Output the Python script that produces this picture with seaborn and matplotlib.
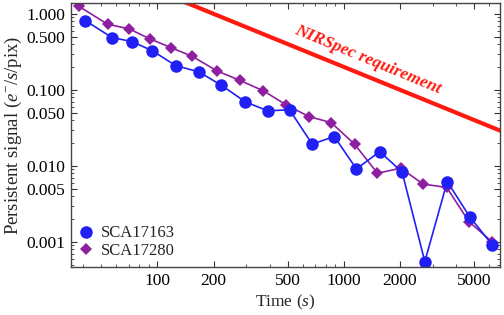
import numpy as np
import pandas as pd
import seaborn as sns
import matplotlib.pyplot as plt
from matplotlib.lines import Line2D
from matplotlib.ticker import LogLocator, NullFormatter

# data (time in s, signal in e-/s/pix)
time_a = [41, 57, 73, 94, 125, 167, 220, 296, 390, 511, 676, 888,
          1167, 1556, 2051, 2716, 3582, 4745, 6250]
signal_a = [0.816, 0.488, 0.432, 0.326, 0.209, 0.172, 0.115, 0.0695, 0.053,
            0.0546, 0.0193, 0.0243, 0.0091, 0.0154, 0.0083, 0.00055, 0.0062,
            0.00211, 0.00091]
time_b = [38, 54, 70.5, 91, 118, 154, 208, 277, 370, 490, 649, 855,
          1140, 1513, 2018, 2661, 3557, 4677, 6250]
signal_b = [1.25, 0.73, 0.635, 0.469, 0.36, 0.275, 0.178, 0.133, 0.097,
            0.0635, 0.0445, 0.037, 0.0193, 0.008, 0.0093, 0.00575, 0.0052,
            0.00185, 0.00099]
req_time = [100, 10000]
req_signal = [2.0, 0.02]

series_names = ["SCA17163", "SCA17280"]
x_ticks = [100, 200, 500, 1000, 2000, 5000]
y_ticks = [0.001, 0.005, 0.01, 0.05, 0.1, 0.5, 1.0]
y_tick_labels = ["0.001", "0.005", "0.010", "0.050", "0.100", "0.500", "1.000"]

blue = "#2020f5"
purple = "#8e1fa0"
red = "#ff1a10"

sns.set_theme(style="ticks")
plt.rcParams["font.family"] = ["Liberation Serif", "DejaVu Serif"]
plt.rcParams["mathtext.fontset"] = "custom"
plt.rcParams["mathtext.rm"] = "Liberation Serif"
plt.rcParams["mathtext.it"] = "Liberation Serif:italic"

df = pd.concat([
    pd.DataFrame({"time": time_a, "signal": signal_a, "detector": series_names[0]}),
    pd.DataFrame({"time": time_b, "signal": signal_b, "detector": series_names[1]}),
])
req = pd.DataFrame({"time": req_time, "signal": req_signal})

fig = plt.figure(figsize=(5.04, 3.15), dpi=100)
ax = fig.add_axes([0.141, 0.151, 0.851, 0.838])

sns.lineplot(data=req, x="time", y="signal", color=red, lw=3, ax=ax, legend=False)
sns.lineplot(data=df[df.detector == series_names[1]], x="time", y="signal",
             color=purple, marker="D", markersize=6, markeredgewidth=0,
             lw=1.2, ax=ax, legend=False, sort=False)
sns.lineplot(data=df[df.detector == series_names[0]], x="time", y="signal",
             color=blue, marker="o", markersize=9, markeredgewidth=0,
             lw=1.2, ax=ax, legend=False, sort=False)

ax.set_xscale("log")
ax.set_yscale("log")
ax.set_xlim(34.4, 6870)
ax.set_ylim(0.00046, 1.37)

ax.set_xticks(x_ticks)
ax.set_xticklabels([str(t) for t in x_ticks])
ax.set_yticks(y_ticks)
ax.set_yticklabels(y_tick_labels)
for axis in (ax.xaxis, ax.yaxis):
    axis.set_minor_locator(LogLocator(base=10, subs=np.arange(2, 10)))
    axis.set_minor_formatter(NullFormatter())

ax.tick_params(which="both", direction="in", top=True, right=True,
               labelsize=12.5, colors="#333333", labelcolor="black", pad=4)
ax.tick_params(which="major", length=4, width=0.8)
ax.tick_params(which="minor", length=2.5, width=0.6)
for sp in ax.spines.values():
    sp.set_color("#444444")
    sp.set_linewidth(1.0)

ax.set_xlabel("Time ($s$)", fontsize=12.5, labelpad=3)
ax.set_ylabel("Persistent signal ($e^{-}$/$s$/pix)", fontsize=13.5, labelpad=2)

ax.text(1340, 0.25, "NIRSpec requirement", color=red, fontsize=12.5,
        fontweight="bold", fontstyle="italic", rotation=-22.5,
        ha="center", va="center")

handles = [
    Line2D([], [], color=blue, marker="o", ls="", markersize=9, markeredgewidth=0),
    Line2D([], [], color=purple, marker="D", ls="", markersize=6, markeredgewidth=0),
]
ax.legend(handles, series_names, loc="lower left", frameon=False, fontsize=12,
          handlelength=0.8, handletextpad=0.5, borderaxespad=0.1,
          labelspacing=0.1)

fig.savefig("out.png", dpi=100)
